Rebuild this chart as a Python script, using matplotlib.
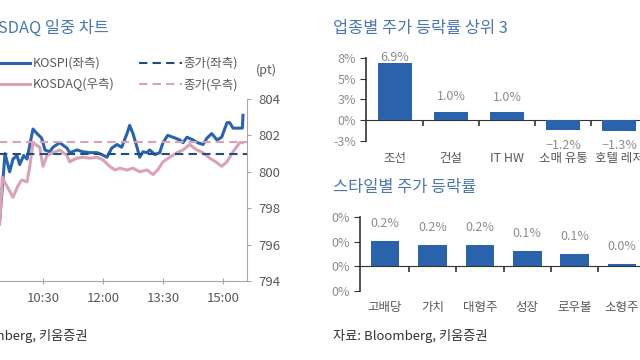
import numpy as np
import matplotlib.pyplot as plt
from matplotlib.ticker import FuncFormatter, FixedLocator

plt.rcParams['font.family'] = ['Noto Sans CJK KR', 'DejaVu Sans']
plt.rcParams['axes.unicode_minus'] = False

# ---- intraday chart (minutes after 09:00) ----
kospi_min = [0, 25, 33, 40, 45, 51, 55, 61, 66, 75, 81, 88, 93, 100, 105, 115,
             126, 130, 141, 150, 160, 171, 178, 186, 193, 201, 208, 216, 220,
             225, 231, 235, 240, 246, 250, 258, 265, 270, 277, 285, 295, 300,
             306, 315, 322, 330, 336, 343, 351, 358, 366, 370, 375, 385, 389, 390]
kospi = [796.6, 797.3, 801.0, 800.0, 800.7, 800.9, 800.4, 800.9, 800.7, 802.35,
         802.1, 801.85, 801.2, 801.1, 801.35, 801.6, 801.3, 801.05, 801.2, 801.1,
         801.05, 801.05, 800.95, 800.8, 801.3, 801.5, 801.35, 802.1, 802.55,
         802.1, 801.35, 800.8, 801.1, 801.05, 801.2, 800.95, 801.05, 801.6,
         802.0, 801.9, 801.75, 801.6, 801.9, 801.75, 801.6, 801.5, 801.85,
         802.1, 801.75, 801.9, 802.7, 802.7, 802.4, 802.4, 802.4, 803.1]

kosdaq_min = [0, 25, 29, 33, 45, 52, 58, 66, 70, 75, 85, 90, 96, 105, 115, 126,
              130, 141, 150, 160, 171, 180, 190, 198, 205, 216, 225, 235, 246,
              255, 262, 270, 280, 291, 300, 310, 321, 330, 340, 351, 358, 366,
              375, 385, 390]
kosdaq = [797.6, 797.1, 799.7, 799.4, 798.6, 799.2, 799.55, 799.45, 800.25,
          801.6, 801.35, 800.3, 800.9, 801.05, 801.2, 800.9, 800.55, 800.75,
          800.8, 800.75, 800.8, 800.65, 800.3, 800.1, 800.2, 800.1, 800.2,
          800.0, 800.1, 799.85, 800.1, 800.55, 800.8, 801.05, 801.2, 801.5,
          801.2, 801.05, 800.75, 800.5, 800.3, 800.55, 801.1, 801.6, 801.6]

kospi_close = 801.0
kosdaq_close = 801.65

time_ticks = [0, 90, 180, 270, 360]
time_labels = ['09:00', '10:30', '12:00', '13:30', '15:00']
pt_ticks = [794, 796, 798, 800, 802, 804]

# ---- sector bars ----
sectors = ['조선', '건설', 'IT HW', '소매 유통', '호텔 레저']
sector_chg = [6.9, 1.02, 0.97, -1.2, -1.3]

# ---- style bars ----
styles = ['고배당', '가치', '대형주', '성장', '로우볼', '소형주']
style_chg = [0.205, 0.176, 0.176, 0.124, 0.103, 0.022]

BLUE = '#2a63ac'
PINK = '#d9a2b9'
NAVY = '#1f4f7e'
TXT = '#595959'
TITLE = '#4a78b0'

fig = plt.figure(figsize=(6.4, 3.6), dpi=100)


def px_axes(x0, y0, x1, y1):
    return fig.add_axes([x0 / 640, 1 - y1 / 360, (x1 - x0) / 640, (y1 - y0) / 360])


def pct_fmt(v, pos=None):
    r = int(np.floor(abs(v) + 0.5)) * (1 if v >= 0 else -1)
    return f'{r}%'


# ---------- left: intraday ----------
ax = px_axes(-17, 99, 247, 281)
l1, = ax.plot(kospi_min, kospi, color=BLUE, lw=2.2, label='KOSPI(좌측)')
l2, = ax.plot(kosdaq_min, kosdaq, color=PINK, lw=2.2, label='KOSDAQ(우측)')
l3 = ax.axhline(kospi_close, color=NAVY, lw=1.5, ls=(0, (4, 2.5)), label='종가(좌측)')
l4 = ax.axhline(kosdaq_close, color=PINK, lw=1.5, ls=(0, (4, 2.5)), label='종가(우측)')
ax.set_xlim(0, 396)
ax.set_ylim(794, 804)
ax.set_xticks(time_ticks)
ax.set_xticklabels(time_labels)
ax.set_yticks(pt_ticks)
ax.yaxis.tick_right()
for s in ['left', 'top']:
    ax.spines[s].set_visible(False)
for s in ['right', 'bottom']:
    ax.spines[s].set_color('#a6a6a6')
ax.tick_params(axis='y', colors='#a6a6a6', labelcolor=TXT, labelsize=9.5,
               length=3, pad=5)
ax.tick_params(axis='x', colors='#a6a6a6', labelcolor=TXT, labelsize=9.5,
               direction='inout', length=4, pad=6)
fig.legend(handles=[l1, l2, l3, l4], ncol=2, loc='upper left',
           bbox_to_anchor=(-12 / 640, 1 - 57 / 360), frameon=False,
           fontsize=9, handlelength=3.4, handletextpad=0.15,
           columnspacing=2.0, labelspacing=0.65, labelcolor=TXT,
           borderpad=0, borderaxespad=0)
fig.text(256 / 640, 1 - 70 / 360, '(pt)', fontsize=9, color=TXT, va='center')
fig.text(109 / 640, 1 - 28 / 360, 'KOSPI, KOSDAQ 일중 차트', fontsize=11.8,
         color=TITLE, ha='right', va='center')
fig.text(-67 / 640, 1 - 336 / 360, '자료: Bloomberg, 키움증권', fontsize=9.5,
         color='#333333', va='center')


def bar_panel(a, labels, vals, ylim, yticks, width, off_pos, off_neg, cat_pad):
    x = np.arange(len(labels))
    a.bar(x, vals, width=width, color=BLUE, zorder=3)
    a.set_ylim(*ylim)
    a.set_yticks(yticks)
    a.yaxis.set_major_formatter(FuncFormatter(pct_fmt))
    for s in ['top', 'right']:
        a.spines[s].set_visible(False)
    a.spines['bottom'].set_position(('data', 0))
    a.spines['bottom'].set_color('#333333')
    a.spines['left'].set_color('#333333')
    a.spines['left'].set_linewidth(1.2)
    a.set_xticks(x)
    a.set_xticklabels(labels)
    a.xaxis.set_minor_locator(FixedLocator(x[:-1] + 0.5))
    a.tick_params(axis='x', which='major', length=0, pad=cat_pad,
                  labelsize=9, labelcolor=TXT)
    a.tick_params(axis='x', which='minor', length=4, color='#333333', width=1.2)
    a.tick_params(axis='y', length=4, color='#333333', labelsize=9,
                  labelcolor='#8c8c8c', pad=3)
    for xi, v in zip(x, vals):
        if v >= 0:
            y = min(v + off_pos, ylim[1])
        else:
            y = v - off_neg
        a.text(xi, y, f'{v:.1f}%'.replace('-', '−'), ha='center', va='center',
               fontsize=9, color='#8c8c8c', zorder=2)


# ---------- right top: sectors ----------
ax2 = px_axes(366, 58, 660, 141)
ax2.set_xlim(-0.52, 4.73)
bar_panel(ax2, sectors, sector_chg, (-2.5, 7.5), [-2.5, 0, 2.5, 5, 7.5],
          0.62, 1.8, 1.8, 23)
fig.text(333 / 640, 1 - 28 / 360, '업종별 주가 등락률 상위 3', fontsize=11.8,
         color=TITLE, va='center')

# ---------- right bottom: styles ----------
ax3 = px_axes(360, 217, 660, 291)
ax3.set_xlim(-0.53, 5.8)
bar_panel(ax3, styles, style_chg, (-0.2, 0.4), [-0.2, 0, 0.2, 0.4],
          0.6, 0.14, 0.14, 25)
fig.text(333 / 640, 1 - 187 / 360, '스타일별 주가 등락률', fontsize=11.8,
         color=TITLE, va='center')
fig.text(333 / 640, 1 - 336 / 360, '자료: Bloomberg, 키움증권', fontsize=9.5,
         color='#333333', va='center')

fig.savefig('out.png', dpi=100)
